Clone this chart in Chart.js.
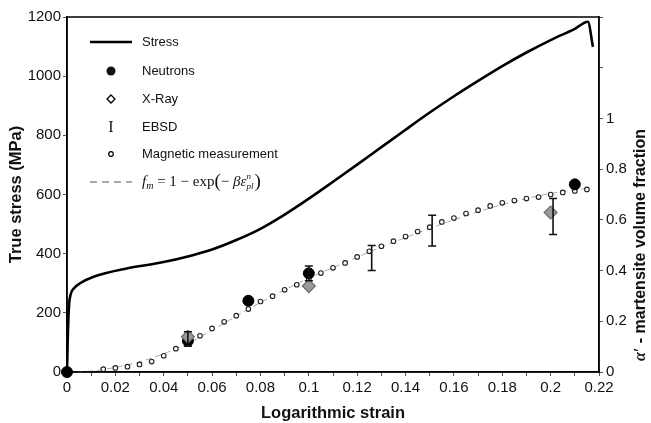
<!DOCTYPE html>
<html>
<head>
<meta charset="utf-8">
<script src="https://cdn.jsdelivr.net/npm/chart.js@4.4.1/dist/chart.umd.min.js"></script>
<style>
  html, body { margin: 0; padding: 0; background: #fff; }
  #wrap { width: 651px; height: 423px; position: relative; }
</style>
</head>
<body>
<div id="wrap"><canvas id="chartStrain"></canvas></div>
<script>
// Stress-strain curve (left axis, MPa)
var stressStrain = [0, 0.0003, 0.0008, 0.0015, 0.003, 0.0054, 0.011, 0.0247, 0.0384, 0.052, 0.06, 0.07, 0.08, 0.09, 0.1, 0.11, 0.12, 0.13, 0.14, 0.15, 0.16, 0.17, 0.18, 0.19, 0.2, 0.21, 0.2154, 0.2175];
var stressValues = [0, 110, 220, 262, 284, 300, 322, 350, 369, 395, 414, 446, 484, 532, 586, 643, 701, 760, 819, 877, 932, 984, 1034, 1080, 1122, 1160, 1184, 1099];

// Fit curve f_m (right axis)
var fitStrain = [0, 0.01, 0.02, 0.03, 0.04, 0.05, 0.06, 0.07, 0.08, 0.09, 0.1, 0.11, 0.12, 0.13, 0.14, 0.15, 0.16, 0.17, 0.18, 0.19, 0.2, 0.21, 0.215];
var fitValues = [0, 0.004, 0.018, 0.040, 0.072, 0.112, 0.165, 0.220, 0.274, 0.324, 0.370, 0.412, 0.453, 0.493, 0.530, 0.566, 0.600, 0.632, 0.660, 0.684, 0.704, 0.718, 0.724];

// Magnetic measurement
var magStrain = [0.015, 0.02, 0.025, 0.03, 0.035, 0.04, 0.045, 0.05, 0.055, 0.06, 0.065, 0.07, 0.075, 0.08, 0.085, 0.09, 0.095, 0.1, 0.105, 0.11, 0.115, 0.12, 0.125, 0.13, 0.135, 0.14, 0.145, 0.15, 0.155, 0.16, 0.165, 0.17, 0.175, 0.18, 0.185, 0.19, 0.195, 0.2, 0.205, 0.21, 0.215];
var magValues = [0.011, 0.016, 0.021, 0.030, 0.041, 0.064, 0.092, 0.118, 0.143, 0.172, 0.198, 0.222, 0.248, 0.278, 0.299, 0.324, 0.344, 0.365, 0.390, 0.411, 0.430, 0.454, 0.476, 0.496, 0.516, 0.534, 0.554, 0.571, 0.592, 0.607, 0.625, 0.638, 0.655, 0.667, 0.676, 0.684, 0.690, 0.700, 0.708, 0.714, 0.720];

// Neutrons
var neutronStrain = [0, 0.05, 0.075, 0.1, 0.21];
var neutronValues = [0, 0.123, 0.281, 0.389, 0.740];

// X-Ray
var xrayStrain = [0.05, 0.1, 0.2];
var xrayValues = [0.139, 0.339, 0.629];

// EBSD (error bars only)
var ebsdStrain = [0.05, 0.1, 0.126, 0.151, 0.201];
var ebsdLow = [0.102, 0.36, 0.400, 0.497, 0.542];
var ebsdHigh = [0.159, 0.418, 0.499, 0.618, 0.684];

// Axis ticks
var xTickStep = 0.01;
var leftTickStep = 200;
var rightTickStep = 0.2;

function toPoints(xs, ys) {
    var pts = [];
    for (var i = 0; i < xs.length; i++) pts.push({ x: xs[i], y: ys[i] });
    return pts;
}

// Frame around the plot + EBSD error bars
var extrasPlugin = {
    id: 'extras',
    afterDatasetsDraw: function(chart) {
        var ctx = chart.ctx;
        var xs = chart.scales.x;
        var ys = chart.scales.y1;
        ctx.save();
        ctx.strokeStyle = '#111';
        ctx.lineWidth = 1.6;
        for (var i = 0; i < ebsdStrain.length; i++) {
            var px = xs.getPixelForValue(ebsdStrain[i]);
            var lo = ys.getPixelForValue(ebsdLow[i]);
            var hi = ys.getPixelForValue(ebsdHigh[i]);
            ctx.beginPath();
            ctx.moveTo(px, lo); ctx.lineTo(px, hi);
            ctx.moveTo(px - 4, lo); ctx.lineTo(px + 4, lo);
            ctx.moveTo(px - 4, hi); ctx.lineTo(px + 4, hi);
            ctx.stroke();
        }
        var a = chart.chartArea;
        ctx.lineWidth = 1.5;
        ctx.strokeStyle = '#000';
        ctx.strokeRect(a.left, a.top, a.right - a.left, a.bottom - a.top);
        ctx.restore();
    },
    afterDraw: function(chart) {
        var ctx = chart.ctx;
        var a = chart.chartArea;
        ctx.save();

        // Right axis title, bottom to top
        ctx.translate(641, 245);
        ctx.rotate(-Math.PI / 2);
        ctx.fillStyle = '#111';
        ctx.textBaseline = 'middle';
        ctx.font = 'italic bold 16px "Liberation Serif"';
        var p1 = 'α′';
        var w1 = ctx.measureText(p1).width;
        ctx.font = 'bold 16px "Liberation Sans"';
        var p2 = ' - martensite volume fraction';
        var w2 = ctx.measureText(p2).width;
        var sx = -(w1 + w2) / 2;
        ctx.font = 'italic bold 16px "Liberation Serif"';
        ctx.fillText(p1, sx, 0);
        ctx.font = 'bold 16px "Liberation Sans"';
        ctx.fillText(p2, sx + w1, 0);
        ctx.setTransform(1, 0, 0, 1, 0, 0);

        // Legend
        var x0 = a.left + 23, x1 = a.left + 65, xm = a.left + 44, xt = a.left + 75;
        var rows = [42, 71, 99, 127, 154, 182];
        ctx.textBaseline = 'middle';
        ctx.textAlign = 'left';
        ctx.fillStyle = '#111';
        ctx.strokeStyle = '#000';

        ctx.lineWidth = 2.5;
        ctx.beginPath(); ctx.moveTo(x0, rows[0]); ctx.lineTo(x1, rows[0]); ctx.stroke();

        ctx.beginPath(); ctx.arc(xm, rows[1], 4.5, 0, Math.PI * 2); ctx.fill();

        ctx.lineWidth = 1.3;
        ctx.fillStyle = '#fff';
        ctx.beginPath();
        ctx.moveTo(xm, rows[2] - 4); ctx.lineTo(xm + 4, rows[2]); ctx.lineTo(xm, rows[2] + 4); ctx.lineTo(xm - 4, rows[2]);
        ctx.closePath(); ctx.fill(); ctx.stroke();

        ctx.fillStyle = '#111';
        ctx.textAlign = 'center';
        ctx.font = '16px "Liberation Serif"';
        ctx.fillText('I', xm, rows[3] + 1);
        ctx.textAlign = 'left';

        ctx.fillStyle = '#fff';
        ctx.lineWidth = 1.2;
        ctx.beginPath(); ctx.arc(xm, rows[4], 2.3, 0, Math.PI * 2); ctx.fill(); ctx.stroke();

        ctx.strokeStyle = '#555';
        ctx.lineWidth = 1;
        ctx.setLineDash([7, 5]);
        ctx.beginPath(); ctx.moveTo(x0, rows[5]); ctx.lineTo(x1, rows[5]); ctx.stroke();
        ctx.setLineDash([]);

        ctx.fillStyle = '#111';
        ctx.font = '13px "Liberation Sans"';
        ctx.fillText('Stress', xt, rows[0]);
        ctx.fillText('Neutrons', xt, rows[1]);
        ctx.fillText('X-Ray', xt, rows[2]);
        ctx.fillText('EBSD', xt, rows[3]);
        ctx.fillText('Magnetic measurement', xt, rows[4]);

        // formula f_m = 1 - exp(- beta eps^n_pl)
        var cx = xt, cy = rows[5];
        function piece(txt, font, dy) {
            ctx.font = font;
            ctx.fillText(txt, cx, cy + dy);
            return ctx.measureText(txt).width;
        }
        cx += piece('f', 'italic 15px "Liberation Serif"', 0);
        cx += piece('m', 'italic 10px "Liberation Serif"', 4);
        cx += piece(' = 1 − exp', '15px "Liberation Serif"', 0);
        cx += piece('(', '19px "Liberation Serif"', 0);
        cx += piece('− ', '15px "Liberation Serif"', 0);
        cx += piece('βε', 'italic 15px "Liberation Serif"', 0);
        var sup = piece('n', 'italic 9px "Liberation Serif"', -5);
        piece('pl', 'italic 9px "Liberation Serif"', 5);
        cx += Math.max(sup, ctx.measureText('pl').width) + 1;
        piece(')', '19px "Liberation Serif"', 0);

        ctx.restore();
    }
};

var ctxStrain = document.querySelector('#chartStrain').getContext('2d');
var chart = new Chart(ctxStrain, {
    type: 'scatter',
    data: {
        datasets: [{
            label: 'X-Ray',
            data: toPoints(xrayStrain, xrayValues),
            yAxisID: 'y1',
            pointStyle: 'rectRot',
            pointRadius: 6.5,
            backgroundColor: '#9a9a9a',
            borderColor: '#6e6e6e',
            borderWidth: 1.2
        }, {
            label: 'Neutrons',
            data: toPoints(neutronStrain, neutronValues),
            yAxisID: 'y1',
            pointStyle: 'circle',
            pointRadius: 5.5,
            backgroundColor: '#000',
            borderColor: '#000',
            clip: false
        }, {
            label: 'Magnetic measurement',
            data: toPoints(magStrain, magValues),
            yAxisID: 'y1',
            pointStyle: 'circle',
            pointRadius: 2.3,
            backgroundColor: '#fff',
            borderColor: '#222',
            borderWidth: 1.1
        }, {
            label: 'Fit',
            type: 'line',
            data: toPoints(fitStrain, fitValues),
            yAxisID: 'y1',
            borderColor: '#aaa',
            borderWidth: 1,
            borderDash: [6, 4],
            pointRadius: 0,
            cubicInterpolationMode: 'monotone',
            fill: false
        }, {
            label: 'Stress',
            type: 'line',
            data: toPoints(stressStrain, stressValues),
            yAxisID: 'y',
            borderColor: '#000',
            borderWidth: 2.6,
            pointRadius: 0,
            cubicInterpolationMode: 'monotone',
            fill: false
        }]
    },
    options: {
        responsive: true,
        maintainAspectRatio: false,
        animation: false,
        layout: { padding: { top: 17, left: 0, right: 0, bottom: 0 } },
        plugins: {
            legend: { display: false },
            tooltip: { enabled: false }
        },
        scales: {
            x: {
                type: 'linear',
                min: 0,
                max: 0.22,
                afterFit: function(s) { s.height = 51; },
                border: { display: true, color: '#000', width: 1.5 },
                grid: { display: true, drawOnChartArea: false, tickLength: 4, color: '#555' },
                ticks: {
                    stepSize: xTickStep,
                    autoSkip: false,
                    maxRotation: 0,
                    padding: 3,
                    color: '#111',
                    font: { family: 'Liberation Sans', size: 15 },
                    callback: function(v, i) {
                        if (i % 2 !== 0) return '';
                        return String(Math.round(v * 100) / 100);
                    }
                },
                title: {
                    display: true,
                    text: 'Logarithmic strain',
                    color: '#111',
                    font: { family: 'Liberation Sans', size: 16.5, weight: 'bold' },
                    padding: { top: 0, bottom: 0 }
                }
            },
            y: {
                type: 'linear',
                position: 'left',
                min: 0,
                max: 1200,
                afterFit: function(s) { s.width = 67; },
                border: { display: true, color: '#000', width: 1.5 },
                grid: { display: true, drawOnChartArea: false, tickLength: 4, color: '#555' },
                ticks: {
                    stepSize: leftTickStep,
                    padding: 2,
                    color: '#111',
                    font: { family: 'Liberation Sans', size: 15 },
                    callback: function(v) { return String(v); }
                },
                title: {
                    display: true,
                    text: 'True stress (MPa)',
                    color: '#111',
                    font: { family: 'Liberation Sans', size: 16.5, weight: 'bold' },
                    padding: { top: 7, bottom: 0 }
                }
            },
            y1: {
                type: 'linear',
                position: 'right',
                min: 0,
                max: 1.4,
                afterFit: function(s) { s.width = 52; },
                border: { display: true, color: '#000', width: 1.5 },
                grid: { display: true, drawOnChartArea: false, tickLength: 4, color: '#555' },
                ticks: {
                    stepSize: rightTickStep,
                    padding: 3,
                    color: '#111',
                    font: { family: 'Liberation Sans', size: 15 },
                    callback: function(v) {
                        var r = Math.round(v * 10) / 10;
                        return r > 1.01 ? '' : String(r);
                    }
                }
            }
        }
    },
    plugins: [extrasPlugin]
});
</script>
</body>
</html>
